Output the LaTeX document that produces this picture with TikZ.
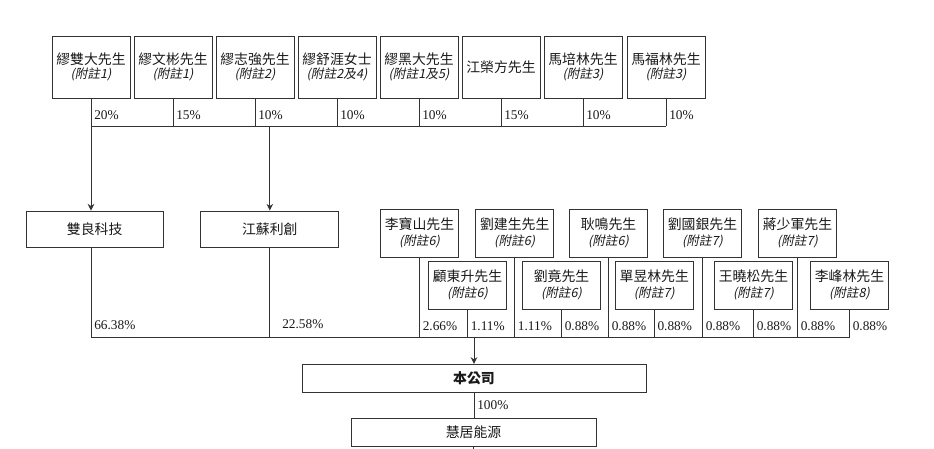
\documentclass[tikz,border=0pt]{standalone}
\usepackage{fontspec}
\setmainfont{Liberation Serif}
\newfontfamily\cjk{Noto Sans CJK TC}
\newfontfamily\cjkit{Noto Sans CJK TC}[FakeSlant=0.2]
\usetikzlibrary{arrows.meta}
\newcommand{\fuzhu}[1]{{\cjkit\fontsize{9.5}{11}\selectfont(#1)}}

\begin{document}
\begin{tikzpicture}[x=0.75pt,y=-0.75pt,>={Stealth[length=5pt,width=5pt]},
	ln/.style={draw=black!80,line width=0.7pt},
	holder/.style={ln,minimum width=58.5pt,minimum height=46.5pt,inner sep=0pt,align=center,text=black!90,font=\cjk\fontsize{10.4}{11}\selectfont},
	person/.style={holder,minimum height=36pt,font=\cjk\fontsize{10.4}{12}\selectfont},
	firm/.style={ln,minimum height=27pt,inner sep=0pt,text=black!90,font=\cjk\fontsize{10.4}{12}\selectfont},
	pct/.style={anchor=west,inner sep=1.5pt,text=black!90,font=\fontsize{10}{12}\selectfont}]
	\useasboundingbox (0,0) rectangle (934,449);
	\coordinate (topbar) at (0,126);
	\coordinate (midbar) at (0,337);
	\coordinate (bottom) at (0,449);
	% shareholders, top row
	\foreach \x/\txt/\p [count=\i] in {91/{繆雙大先生\\\fuzhu{附註1}}/20, 173/{繆文彬先生\\\fuzhu{附註1}}/15,
		255/{繆志強先生\\\fuzhu{附註2}}/10, 337/{繆舒涯女士\\\fuzhu{附註2及4}}/10,
		419/{繆黑大先生\\\fuzhu{附註1及5}}/10, 501/{江榮方先生}/15,
		583/{馬培林先生\\\fuzhu{附註3}}/10, 666/{馬福林先生\\\fuzhu{附註3}}/10}
	{
		\node[holder] (sh\i) at (\x,67) {\txt};
		\draw[ln] (sh\i.south) -- (sh\i.south |- topbar);
		\node[pct] (pa\i) at (\x+1,115) {\p\%};
	}
	\draw[ln] (sh1.south |- topbar) -- (sh8.south |- topbar);
	% holding companies
	\node[firm,minimum width=102.75pt] (sl) at (94.7,229) {雙良科技};
	\node[firm,minimum width=103.5pt] (js) at (269.8,229) {江蘇利創};
	\draw[ln,->] (sh1.south |- topbar) -- (sh1.south |- sl.north);
	\draw[ln,->] (js.north |- topbar) -- (js.north);
	\draw[ln] (sh1.south |- sl.south) -- (sh1.south |- midbar);
	\draw[ln] (js.south) -- (js.south |- midbar);
	\node[pct] (psl) at (92,325) {66.38\%};
	\node[pct] (pjs) at (280,324) {22.58\%};
	% individual holders, right
	\foreach \x/\txt/\n/\p [count=\i] in {419.5/李寶山先生/6/2.66, 514.7/劉建生先生/6/1.11,
		608.5/耿鳴先生/6/0.88, 702.5/劉國銀先生/7/0.88, 797.5/蔣少軍先生/7/0.88}
	{
		\node[person] (ua\i) at (\x,233) {\txt\\\fuzhu{附註\n}};
		\draw[ln] (ua\i.south) -- (ua\i.south |- midbar);
		\node[pct] (pu\i) at (\x+1,326) {\p\%};
	}
	\foreach \x/\txt/\n/\p [count=\i] in {467.5/顧東升先生/6/1.11, 561.5/劉竟先生/6/0.88,
		654.3/單昱林先生/7/0.88, 753.5/王曉松先生/7/0.88, 849.5/李峰林先生/8/0.88}
	{
		\node[person] (lb\i) at (\x,285) {\txt\\\fuzhu{附註\n}};
		\draw[ln] (lb\i.south) -- (lb\i.south |- midbar);
		\node[pct] (pl\i) at (\x+1,326) {\p\%};
	}
	\draw[ln] (sh1.south |- midbar) -- (lb5.south |- midbar);
	% company
	\node[firm,minimum width=258pt,minimum height=21pt,font=\cjk\bfseries\fontsize{10.4}{12}\selectfont] (gs) at (474,378.3) {本公司};
	\node[firm,minimum width=183.75pt,minimum height=21pt] (hj) at (473.5,432) {慧居能源};
	\draw[ln,->] (gs.north |- midbar) -- (gs.north);
	\draw[ln] (gs.south) -- (gs.south |- hj.north);
	\node[pct] (pgs) at (475,405) {100\%};
	\draw[ln] (hj.south) -- (hj.south |- bottom);
\end{tikzpicture}
\end{document}
